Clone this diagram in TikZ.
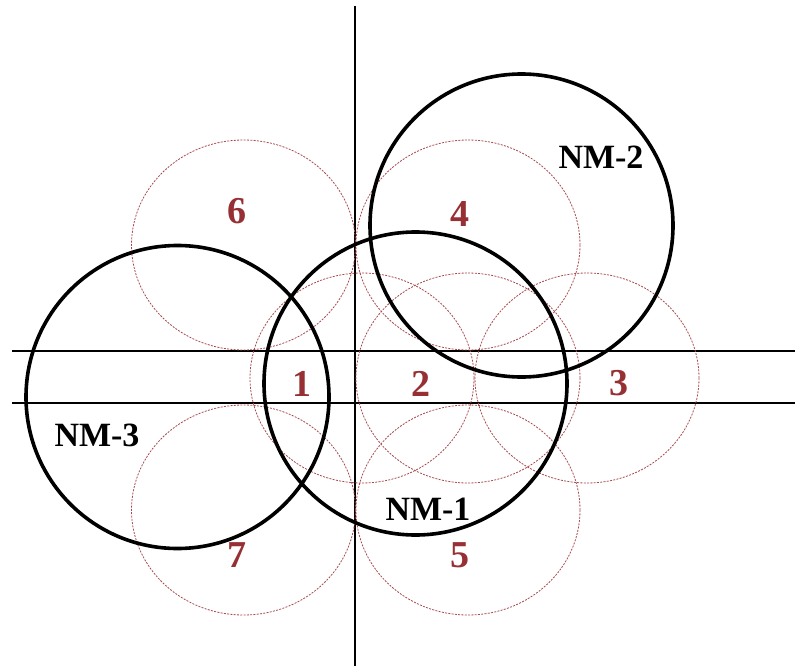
\documentclass[tikz,border=0pt]{standalone}
\usepackage{fontspec}
\setmainfont{Liberation Serif}
\definecolor{numred}{RGB}{150,48,52}
\definecolor{dashred}{RGB}{165,75,78}
\begin{document}
\begin{tikzpicture}[x=1pt,y=-1pt,
  bold circle/.style={draw=black,line width=3.6pt},
  axis line/.style={draw=black,line width=1.6pt},
  cell/.style={draw=dashred,line width=0.8pt,dash pattern=on 2pt off 1.3pt},
  numlabel/.style={text=numred,font=\fontsize{38}{40}\selectfont\bfseries,inner sep=0pt},
  nmlabel/.style={text=black,font=\fontsize{34}{36}\selectfont\bfseries,inner sep=0pt}]
\useasboundingbox (0,0) rectangle (795,666);
% axes
\draw[axis line] (355,6) -- (355,666);
\draw[axis line] (12,351) -- (795,351);
\draw[axis line] (12,403) -- (795,403);
% dashed cells
\draw[cell] (243.5,245) ellipse [x radius=112pt, y radius=105pt];
\draw[cell] (468,245) ellipse [x radius=112pt, y radius=105pt];
\draw[cell] (243.5,510) ellipse [x radius=112pt, y radius=105pt];
\draw[cell] (468,510) ellipse [x radius=112pt, y radius=105pt];
\draw[cell] (362,378) ellipse [x radius=112pt, y radius=105pt];
\draw[cell] (468,378) ellipse [x radius=112pt, y radius=105pt];
\draw[cell] (587,378) ellipse [x radius=112pt, y radius=105pt];
% bold circles
\draw[bold circle] (415.5,383.5) circle (151.5pt);
\draw[bold circle] (521.5,225.5) circle (151.5pt);
\draw[bold circle] (177.5,397) circle (151.5pt);
% labels
\node[numlabel] (n6) at (237,211) {6};
\node[numlabel] (n4) at (460,214) {4};
\node[numlabel] (n1) at (302,384) {1};
\node[numlabel] (n2) at (421,384) {2};
\node[numlabel] (n3) at (619,383) {3};
\node[numlabel] (n7) at (237,555) {7};
\node[numlabel] (n5) at (460,555) {5};
\node[nmlabel] (nm2) at (601,157) {NM-2};
\node[nmlabel] (nm3) at (97,435) {NM-3};
\node[nmlabel] (nm1) at (428,509) {NM-1};
\end{tikzpicture}
\end{document}
